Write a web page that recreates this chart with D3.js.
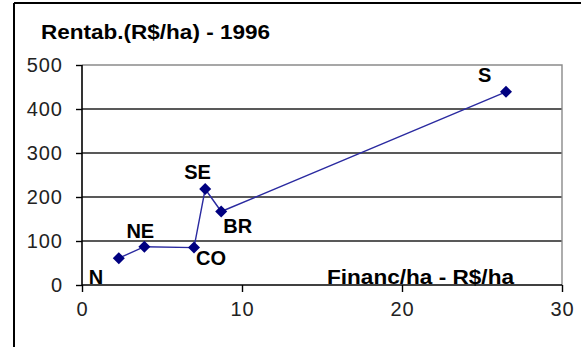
<!DOCTYPE html>
<html>
<head>
<meta charset="utf-8">
<script src="https://cdn.jsdelivr.net/npm/d3@7"></script>
<style>
  html, body { margin: 0; padding: 0; background: #fff; }
  svg { display: block; }
  text { font-family: "Liberation Sans", Arial, sans-serif; }
</style>
</head>
<body>
<script>
// Regions, financing per hectare (R$/ha) and profitability (R$/ha), 1996
const regions = ["N", "NE", "CO", "SE", "BR", "S"];
const financ = [2.3, 3.9, 7.0, 7.7, 8.7, 26.5];
const rentab = [61, 87, 85, 218, 167, 439];
const xTicks = [0, 10, 20, 30];
const yTicks = [0, 100, 200, 300, 400, 500];
const chartTitle = "Rentab.(R$/ha) - 1996";
const xTitle = "Financ/ha - R$/ha";

const W = 581, H = 347;
const svg = d3.select("body").append("svg").attr("width", W).attr("height", H);

// outer chart frame
svg.append("line").attr("x1", 14).attr("x2", W).attr("y1", 3).attr("y2", 3)
  .attr("stroke", "#000").attr("stroke-width", 2);
svg.append("line").attr("x1", 14).attr("x2", 14).attr("y1", 3).attr("y2", H)
  .attr("stroke", "#000").attr("stroke-width", 2);

const x = d3.scaleLinear().domain([0, 30]).range([82, 562]);
const y = d3.scaleLinear().domain([0, 500]).range([285, 65]);

// horizontal gridlines
svg.append("g").selectAll("line").data(yTicks.filter(v => v > 0 && v < 500)).join("line")
  .attr("x1", x(0)).attr("x2", x(30))
  .attr("y1", d => y(d)).attr("y2", d => y(d))
  .attr("stroke", "#222").attr("stroke-width", 1.4);

// plot area border (top and right)
svg.append("path")
  .attr("d", `M${x(0)},${y(500)}H${x(30)}V${y(0)}`)
  .attr("fill", "none").attr("stroke", "#8a8a8a").attr("stroke-width", 1.4);

// axes
const yAxis = d3.axisLeft(y).tickValues(yTicks).tickSize(6).tickPadding(13).tickFormat(d3.format("d"));
const xAxis = d3.axisBottom(x).tickValues(xTicks).tickSize(7).tickPadding(10).tickFormat(d3.format("d"));

const gy = svg.append("g").attr("transform", `translate(${x(0)},0)`).call(yAxis);
const gx = svg.append("g").attr("transform", `translate(0,${y(0)})`).call(xAxis);
[gy, gx].forEach(g => {
  g.select(".domain").attr("stroke", "#000").attr("stroke-width", 1.6);
  g.selectAll(".tick line").attr("stroke", "#000").attr("stroke-width", 1.4);
  g.selectAll(".tick text")
    .attr("fill", "#222")
    .style("font-size", "20px")
    .style("letter-spacing", "1px")
    .style("font-family", "'Liberation Sans', Arial, sans-serif");
});
gy.select(".domain").attr("d", `M0,${y(500)}V${y(0)}`);
gx.select(".domain").attr("d", `M${x(0)},0H${x(30)}`);

// chart title
svg.append("text")
  .attr("x", 41).attr("y", 39)
  .attr("textLength", 229).attr("lengthAdjust", "spacingAndGlyphs")
  .style("font-size", "21px").style("font-weight", "bold")
  .attr("fill", "#000").text(chartTitle);

// x-axis title, sitting on the axis line
svg.append("text")
  .attr("x", 327).attr("y", 284)
  .attr("textLength", 187).attr("lengthAdjust", "spacingAndGlyphs")
  .style("font-size", "21px").style("font-weight", "bold")
  .attr("fill", "#000").text(xTitle);

const pts = regions.map((r, i) => ({ r, fx: financ[i], ry: rentab[i] }));

// connecting line
svg.append("path")
  .datum(pts)
  .attr("d", d3.line().x(d => x(d.fx)).y(d => y(d.ry)))
  .attr("fill", "none").attr("stroke", "#2a2aa0").attr("stroke-width", 1.4);

// diamond markers
svg.append("g").selectAll("path").data(pts).join("path")
  .attr("transform", d => `translate(${x(d.fx)},${y(d.ry)})`)
  .attr("d", "M0,-6L6,0L0,6L-6,0Z")
  .attr("fill", "#000080");

// region labels, offset from their markers
const labelOffset = {
  N: [-30, 26], NE: [-18, -9], CO: [2, 17],
  SE: [-21, -10], BR: [2, 21], S: [-28, -10]
};
svg.append("g").selectAll("text").data(pts).join("text")
  .attr("x", d => x(d.fx) + labelOffset[d.r][0])
  .attr("y", d => y(d.ry) + labelOffset[d.r][1])
  .style("font-size", "20px").style("font-weight", "bold")
  .attr("fill", "#000")
  .text(d => d.r);
</script>
</body>
</html>
